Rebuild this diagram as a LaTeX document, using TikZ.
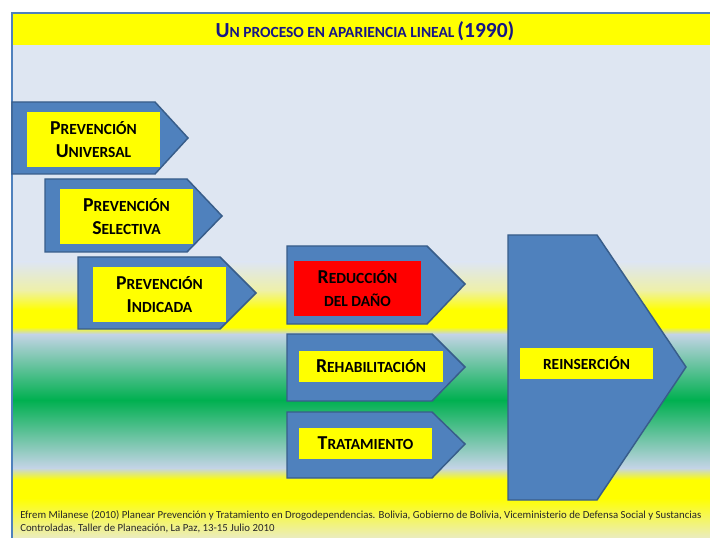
\documentclass[tikz,border=0pt]{standalone}
\usepackage{fontspec}
\setmainfont{Carlito}
\definecolor{lb}{RGB}{222,230,242}
\definecolor{lbg}{RGB}{196,212,230}
\definecolor{gr}{RGB}{0,176,80}
\definecolor{yl}{RGB}{255,255,0}
\definecolor{pyl}{RGB}{234,236,192}
\definecolor{pyl2}{RGB}{238,240,170}
\definecolor{shapeblue}{RGB}{79,129,189}
\definecolor{shapeedge}{RGB}{56,93,138}
\definecolor{framecol}{RGB}{79,129,189}
\definecolor{titlecol}{RGB}{22,22,135}
\definecolor{redbox}{RGB}{255,0,0}
\newcommand\bx[2]{{\fontsize{14.8}{17.25}\selectfont #1}{\fontsize{11.6}{17.25}\selectfont #2}}
\newcommand\tl[2]{{\fontsize{16.1}{18}\selectfont #1}{\fontsize{11.6}{18}\selectfont #2}}
\newcommand\sm[1]{{\fontsize{11.6}{17.25}\selectfont #1}}
\tikzset{
  arrowshape/.style={fill=shapeblue, draw=shapeedge, line width=1.1pt, line join=miter},
  lbl/.style={fill=yl, inner sep=0pt, align=center, text=black,
    font=\bfseries\fontsize{11.6}{17.25}\selectfont},
}
\begin{document}
\begin{tikzpicture}[x=0.75pt,y=-0.75pt]
\useasboundingbox (0,0) rectangle (710,538);
% background
\fill[white] (0,0) rectangle (710,538);
\fill[lb] (13,45) rectangle (710,262);
\shade[top color=lb, bottom color=pyl2] (13,262) rectangle (710,290);
\shade[top color=pyl2, bottom color=yl] (13,290) rectangle (710,310);
\fill[yl] (13,310) rectangle (710,327);
\shade[top color=yl, bottom color=lbg] (13,327) rectangle (710,334);
\shade[top color=lbg, bottom color=gr] (13,334) rectangle (710,400);
\shade[top color=gr, bottom color=lbg] (13,400) rectangle (710,468);
\shade[top color=lbg, bottom color=yl] (13,468) rectangle (710,480);
\fill[yl] (13,480) rectangle (710,498);
\shade[top color=yl, bottom color=pyl] (13,498) rectangle (710,538);
% title bar and frame
\fill[yl] (13,14) rectangle (710,45);
\draw[framecol, line width=1.6pt] (12,540) -- (12,13) -- (712,13);
\node[text=titlecol, font=\bfseries, inner sep=0pt] (title) at (365,31)
  {\tl{U}{N PROCESO EN APARIENCIA LINEAL} \tl{(1990)}{}};
% arrow shapes
\draw[arrowshape] (12,102) -- (155,102) -- (188,138) -- (155,174) -- (12,174) -- cycle;
\draw[arrowshape] (45,179) -- (187,179) -- (222,216) -- (187,252) -- (45,252) -- cycle;
\draw[arrowshape] (78,257) -- (220,257) -- (256,293) -- (220,329) -- (78,329) -- cycle;
\draw[arrowshape] (287,246) -- (427,246) -- (465,284) -- (427,324) -- (287,324) -- cycle;
\draw[arrowshape] (287,334) -- (432,334) -- (465,367) -- (432,401) -- (287,401) -- cycle;
\draw[arrowshape] (287,412) -- (432,412) -- (465,444) -- (432,478) -- (287,478) -- cycle;
\draw[arrowshape] (508,235) -- (597,235) -- (686,367) -- (597,500) -- (508,500) -- cycle;
% labels
\node[lbl, minimum width={133*0.75pt}, minimum height={55*0.75pt}] (univ) at (93.5,139.5)
  {\bx{P}{REVENCIÓN}\\\bx{U}{NIVERSAL}};
\node[lbl, minimum width={133*0.75pt}, minimum height={55*0.75pt}] (selec) at (126.5,216.5)
  {\bx{P}{REVENCIÓN}\\\bx{S}{ELECTIVA}};
\node[lbl, minimum width={133*0.75pt}, minimum height={55*0.75pt}] (indic) at (159.5,294.5)
  {\bx{P}{REVENCIÓN}\\\bx{I}{NDICADA}};
\node[lbl, fill=redbox, minimum width={127*0.75pt}, minimum height={55*0.75pt}] (reduc) at (357.5,288.5)
  {\bx{R}{EDUCCIÓN}\\\sm{DEL DAÑO}};
\node[lbl, minimum width={144*0.75pt}, minimum height={31*0.75pt}] (rehab) at (371,366.5)
  {\bx{R}{EHABILITACIÓN}};
\node[lbl, minimum width={133*0.75pt}, minimum height={31*0.75pt}] (trat) at (365.5,443.5)
  {\bx{T}{RATAMIENTO}};
\node[lbl, minimum width={133*0.75pt}, minimum height={31*0.75pt}] (reins) at (586.5,363.5)
  {\sm{REINSERCIÓN}};
% footnote
\node[anchor=base west, inner sep=0pt, align=left, font=\fontsize{8.1}{9.75}\selectfont, text=black!85] (foot) at (20,531)
  {Efrem Milanese (2010) Planear Prevención y Tratamiento en Drogodependencias. Bolivia, Gobierno de Bolivia, Viceministerio de Defensa Social y Sustancias\\
   Controladas, Taller de Planeación, La Paz, 13-15 Julio 2010};
\end{tikzpicture}
\end{document}
